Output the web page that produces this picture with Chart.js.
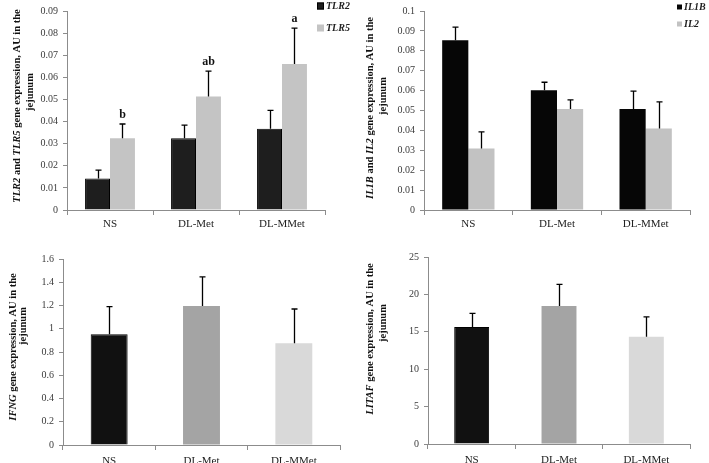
<!DOCTYPE html>
<html>
<head>
<meta charset="utf-8">
<script src="https://cdn.jsdelivr.net/npm/chart.js@4.4.0/dist/chart.umd.min.js"></script>
<style>
html, body { margin: 0; padding: 0; background: #fff; }
#wrap { position: relative; width: 709px; height: 463px; overflow: hidden; }
canvas { position: absolute; }
</style>
</head>
<body>
<div id="wrap">
	<canvas id="c1" width="355" height="235" style="left:0;top:0"></canvas>
	<canvas id="c2" width="354" height="235" style="left:355px;top:0"></canvas>
	<canvas id="c3" width="355" height="228" style="left:0;top:235px"></canvas>
	<canvas id="c4" width="354" height="228" style="left:355px;top:235px"></canvas>
</div>
<script>
// groups on the x axis
var groups = ['NS', 'DL-Met', 'DL-MMet'];

// top left: TLR2 / TLR5
var tlr2 		= [0.0142, 0.0325, 0.0367];
var tlr2Se 		= [0.0038, 0.0059, 0.0084];
var tlr5 		= [0.0325, 0.0513, 0.066];
var tlr5Se 		= [0.0064, 0.0115, 0.0163];
var tlr5Letters = ['b', 'ab', 'a'];

// top right: IL1B / IL2
var il1b 	= [0.0853, 0.0602, 0.0507];
var il1bSe 	= [0.0066, 0.004, 0.009];
var il2 	= [0.0309, 0.0507, 0.041];
var il2Se 	= [0.0084, 0.0046, 0.0133];

// bottom left: IFNG
var ifng 	= [0.952, 1.195, 0.875];
var ifngSe 	= [0.238, 0.252, 0.295];

// bottom right: LITAF
var litaf 	= [15.65, 18.45, 14.33];
var litafSe = [1.8, 2.9, 2.67];

var serif = '"Liberation Serif", "Times New Roman", serif';
var axisGray = '#8c8c8c';

// error bars + significance letters, positioned with the chart scales
var errorBars = {
	id: 'errorBars',
	afterDatasetsDraw: function(chart) {
		var ctx = chart.ctx;
		var ys = chart.scales.y;
		chart.data.datasets.forEach(function(ds, di) {
			if(!ds.se) return;
			var meta = chart.getDatasetMeta(di);
			meta.data.forEach(function(bar, i) {
				var top = ys.getPixelForValue(ds.data[i] + ds.se[i]);
				var x = Math.round(bar.x) + 0.5;
				ctx.save();
				ctx.strokeStyle = '#000';
				ctx.lineWidth = 1.3;
				ctx.beginPath();
				ctx.moveTo(x, bar.y);
				ctx.lineTo(x, top);
				ctx.moveTo(x - 3, top);
				ctx.lineTo(x + 3, top);
				ctx.stroke();
				if(ds.letters) {
					ctx.fillStyle = '#111';
					ctx.font = 'bold 12px ' + serif;
					ctx.textAlign = 'center';
					ctx.textBaseline = 'bottom';
					ctx.fillText(ds.letters[i], x, top - 3);
				}
				ctx.restore();
			});
		});
	}
};

// rotated y title with italic gene names
var richTitle = {
	id: 'richTitle',
	afterDraw: function(chart, args, opts) {
		if(!opts.lines) return;
		var ctx = chart.ctx;
		opts.lines.forEach(function(line) {
			ctx.save();
			ctx.translate(line.x, line.y);
			ctx.rotate(-Math.PI / 2);
			ctx.fillStyle = '#111';
			ctx.textBaseline = 'middle';
			var w = 0;
			line.runs.forEach(function(r) {
				ctx.font = (r.i ? 'italic ' : '') + 'bold 10.5px ' + serif;
				w += ctx.measureText(r.t).width;
			});
			var cx = -w / 2;
			line.runs.forEach(function(r) {
				ctx.font = (r.i ? 'italic ' : '') + 'bold 10.5px ' + serif;
				ctx.fillText(r.t, cx, 0);
				cx += ctx.measureText(r.t).width;
			});
			ctx.restore();
		});
	}
};

// small legend in the top right corner
var cornerLegend = {
	id: 'cornerLegend',
	afterDraw: function(chart, args, opts) {
		if(!opts.x) return;
		var ctx = chart.ctx;
		chart.data.datasets.forEach(function(ds, i) {
			var y = opts.y + i * opts.gap;
			ctx.save();
			ctx.fillStyle = ds.backgroundColor;
			ctx.fillRect(opts.x, y - opts.box / 2, opts.box, opts.box);
			if(ds.borderWidth) {
				ctx.strokeStyle = '#000';
				ctx.lineWidth = 1;
				ctx.strokeRect(opts.x + 0.5, y - opts.box / 2 + 0.5, opts.box - 1, opts.box - 1);
			}
			ctx.fillStyle = '#222';
			ctx.font = 'italic bold 10px ' + serif;
			ctx.textBaseline = 'middle';
			ctx.fillText(ds.label, opts.x + opts.box + 2, y + 0.5);
			ctx.restore();
		});
	}
};

function makeScales(max, step, yWidth, xHeight, xPad) {
	return {
		x: {
			grid: { drawOnChartArea: false, color: axisGray, tickLength: 5, offset: true },
			border: { color: axisGray },
			ticks: { color: '#222', font: { family: serif, size: 11 }, padding: xPad },
			afterFit: function(s) { s.height = xHeight; }
		},
		y: {
			min: 0,
			max: max,
			ticks: {
				stepSize: step,
				color: '#3a3a3a',
				font: { family: serif, size: 10 },
				padding: 5,
				callback: function(v) { return String(+v.toFixed(3)); }
			},
			grid: { drawOnChartArea: false, color: axisGray, tickLength: 4 },
			border: { color: axisGray },
			afterFit: function(s) { s.width = yWidth; }
		}
	};
}

function makeChart(id, datasets, scales, padding, catPct, titleLines, legend) {
	return new Chart(document.getElementById(id), {
		type: 'bar',
		data: { labels: groups, datasets: datasets },
		options: {
			responsive: false,
			animation: false,
			layout: { padding: padding },
			datasets: { bar: { categoryPercentage: catPct, barPercentage: 1 } },
			scales: scales,
			plugins: {
				legend: { display: false },
				tooltip: { enabled: false },
				richTitle: { lines: titleLines },
				cornerLegend: legend || {}
			}
		},
		plugins: [errorBars, richTitle, cornerLegend]
	});
}

function titleLines(x1, y1, x2, y2, runs) {
	return [
		{ x: x1, y: y1, runs: runs },
		{ x: x2, y: y2, runs: [{ t: 'jejunum' }] }
	];
}

makeChart('c1', [
		{ label: 'TLR2', data: tlr2, se: tlr2Se, backgroundColor: '#1e1e1e', borderColor: '#000', borderWidth: 1 },
		{ label: 'TLR5', data: tlr5, se: tlr5Se, letters: tlr5Letters, backgroundColor: '#c4c4c4', borderWidth: 0 }
	],
	makeScales(0.09, 0.01, 67, 25, 3),
	{ left: 0, right: 30, top: 7, bottom: 0 },
	0.58,
	titleLines(17, 106, 30, 92, [{ t: 'TLR2', i: true }, { t: ' and ' }, { t: 'TLR5', i: true }, { t: ' gene expression, AU in the' }]),
	{ x: 317, y: 6, gap: 22, box: 7 }
);

makeChart('c2', [
		{ label: 'IL1B', data: il1b, se: il1bSe, backgroundColor: '#060606', borderWidth: 0 },
		{ label: 'IL2', data: il2, se: il2Se, backgroundColor: '#c2c2c2', borderWidth: 0 }
	],
	makeScales(0.1, 0.01, 69, 25, 3),
	{ left: 0, right: 19, top: 5, bottom: 0 },
	0.59,
	titleLines(15, 108, 28, 96, [{ t: 'IL1B', i: true }, { t: ' and ' }, { t: 'IL2', i: true }, { t: ' gene expression, AU in the' }]),
	{ x: 322, y: 7, gap: 17, box: 5 }
);

makeChart('c3', [
		{ label: 'IFNG', data: ifng, se: ifngSe, backgroundColor: ['#111111', '#a4a4a4', '#d9d9d9'], borderColor: '#000', borderWidth: [1, 0, 0] }
	],
	makeScales(1.6, 0.2, 63, 18, 5),
	{ left: 0, right: 15, top: 24, bottom: 0 },
	0.4,
	titleLines(13, 112, 23, 91, [{ t: 'IFNG', i: true }, { t: ' gene expression, AU in the' }]),
	null
);

makeChart('c4', [
		{ label: 'LITAF', data: litaf, se: litafSe, backgroundColor: ['#111111', '#a4a4a4', '#d9d9d9'], borderColor: '#000', borderWidth: [1, 0, 0] }
	],
	makeScales(25, 5, 73, 19, 5),
	{ left: 0, right: 19, top: 22, bottom: 0 },
	0.4,
	titleLines(15, 104, 28, 88, [{ t: 'LITAF', i: true }, { t: ' gene expression, AU in the' }]),
	null
);
</script>
</body>
</html>
